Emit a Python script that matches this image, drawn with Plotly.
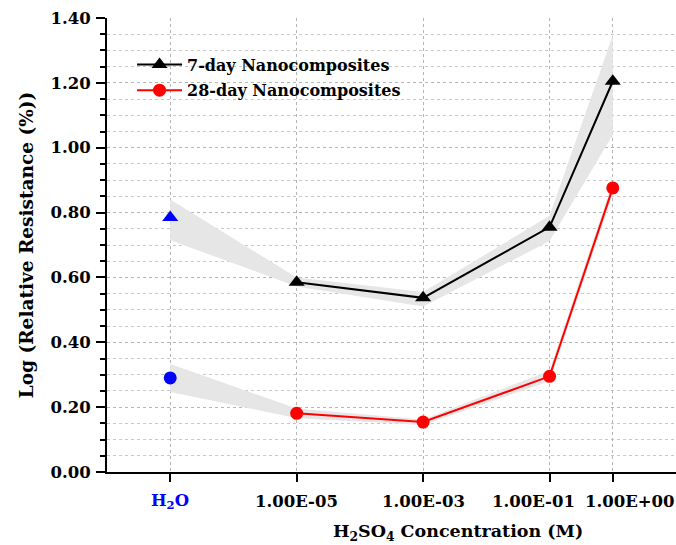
import plotly.graph_objects as go

# Categories (H2O plotted at 1e-7 position on log axis)
conc = [1e-7, 1e-5, 1e-3, 1e-1, 1.0]
tick_labels = ['<span style="color:blue">H<sub>2</sub>O</span>', "1.00E-05", "1.00E-03", "1.00E-01", "1.00E+00"]

day7 = [0.785, 0.585, 0.537, 0.755, 1.205]
day7_hi = [0.840, 0.600, 0.555, 0.790, 1.347]
day7_lo = [0.715, 0.572, 0.510, 0.712, 1.040]

day28 = [0.290, 0.181, 0.154, 0.295, 0.876]
day28_hi = [0.333, 0.196, 0.162, 0.312, 0.895]
day28_lo = [0.247, 0.166, 0.145, 0.280, 0.855]

FONT = "DejaVu Serif"
band_color = "#e6e6e6"
label_shift = [0, 0, 0, -16, 17]  # px nudges so the two crowded labels do not collide

fig = go.Figure()

for hi, lo in [(day7_hi, day7_lo), (day28_hi, day28_lo)]:
    fig.add_trace(go.Scatter(
        x=conc + conc[::-1], y=hi + lo[::-1], fill="toself",
        fillcolor=band_color, line=dict(width=0), mode="lines",
        hoverinfo="skip", showlegend=False))

fig.add_trace(go.Scatter(
    x=conc[1:], y=day7[1:], mode="lines+markers", name="7-day Nanocomposites",
    legendgroup="a",
    line=dict(color="black", width=2),
    marker=dict(symbol="triangle-up", size=14, color="black")))
fig.add_trace(go.Scatter(
    x=conc[1:], y=day28[1:], mode="lines+markers", name="28-day Nanocomposites",
    legendgroup="b",
    line=dict(color="red", width=2),
    marker=dict(symbol="circle", size=13, color="red")))
fig.add_trace(go.Scatter(
    x=[conc[0]], y=[day7[0]], mode="markers", showlegend=False,
    marker=dict(symbol="triangle-up", size=14, color="blue")))
fig.add_trace(go.Scatter(
    x=[conc[0]], y=[day28[0]], mode="markers", showlegend=False,
    marker=dict(symbol="circle", size=13, color="blue")))

fig.update_layout(
    width=676, height=545,
    margin=dict(l=107, r=0, t=18, b=73),
    plot_bgcolor="white", paper_bgcolor="white",
    font=dict(family=FONT, size=16, color="black"),
    showlegend=True,
    legend=dict(x=0.044, y=0.935, xanchor="left", yanchor="top",
                bgcolor="rgba(0,0,0,0)", itemwidth=45,
                font=dict(family=FONT, size=16, color="black", weight="bold"),
                tracegroupgap=2),
    xaxis=dict(
        type="log", range=[-8, 1],
        tickvals=conc, ticktext=[""] * len(conc),
        ticks="outside", ticklen=8, tickwidth=1.5, tickcolor="black",
        showline=True, linecolor="black", linewidth=2,
        showgrid=True, gridcolor="#b5b5b5", griddash="dot", gridwidth=1,
        zeroline=False, mirror=False),
    yaxis=dict(
        range=[0, 1.40], tickvals=[0, 0.2, 0.4, 0.6, 0.8, 1.0, 1.2, 1.4],
        tickformat=".2f",
        tickfont=dict(family=FONT, size=16.5, weight="bold"),
        ticks="outside", ticklen=9, tickwidth=1.5, tickcolor="black",
        ticklabelstandoff=2,
        showline=True, linecolor="black", linewidth=2,
        showgrid=True, gridcolor="#b5b5b5", griddash="dot", gridwidth=1,
        zeroline=False,
        minor=dict(dtick=0.05, ticks="outside", ticklen=5, tickcolor="black",
                   showgrid=True, gridcolor="#c8c8c8", griddash="dot"),
        title=dict(text="Log (Relative Resistance (%))",
                   font=dict(family=FONT, size=18.5, weight="bold"), standoff=12)),
)

import math
for xv, txt, dx in zip(conc, tick_labels, label_shift):
    fig.add_annotation(
        x=math.log10(xv), y=-0.066, xref="x", yref="paper",
        text=txt, showarrow=False, xanchor="center", yanchor="middle",
        xshift=dx, font=dict(family=FONT, size=16.5, weight="bold", color="black"))

fig.add_annotation(
    x=0.617, y=-0.134, xref="paper", yref="paper",
    text="H<sub>2</sub>SO<sub>4</sub> Concentration (M)",
    showarrow=False, xanchor="center", yanchor="middle",
    font=dict(family=FONT, size=17.5, weight="bold", color="black"))

fig.write_html("out.html")
